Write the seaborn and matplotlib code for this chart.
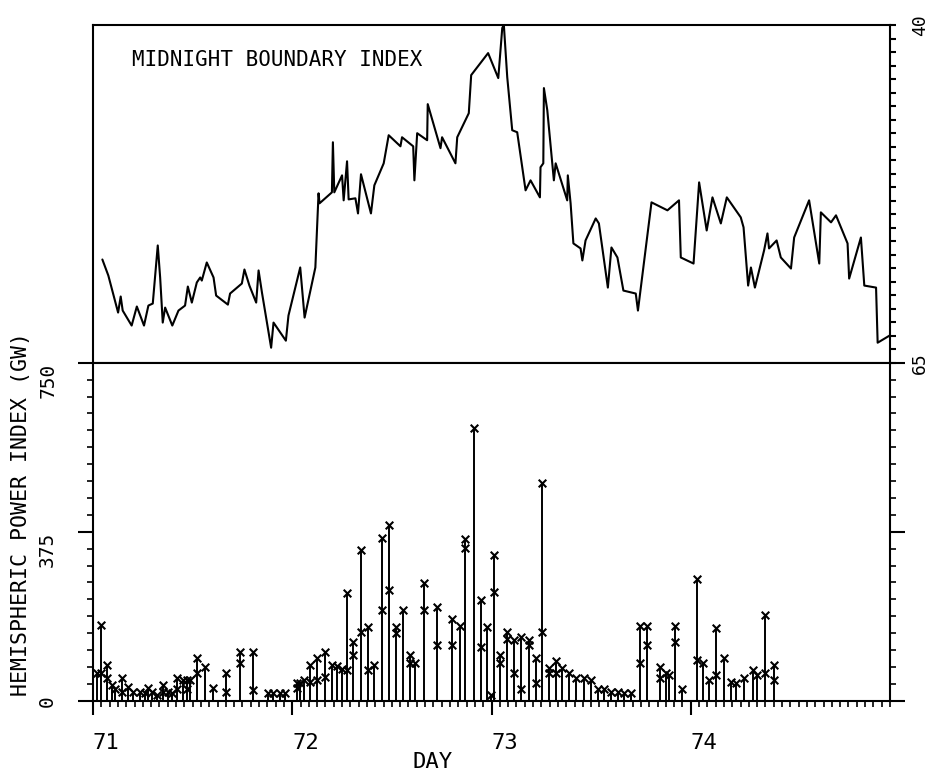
import numpy as np
import matplotlib
matplotlib.use("Agg")
import matplotlib.pyplot as plt
import seaborn as sns
import pandas as pd
from matplotlib.ticker import MultipleLocator

sns.set_style("ticks")
plt.rcParams['font.family'] = ['DejaVu Sans Mono', 'DejaVu Sans']
plt.rcParams['text.color'] = 'black'
plt.rcParams['axes.labelcolor'] = 'black'
plt.rcParams['xtick.color'] = 'black'
plt.rcParams['ytick.color'] = 'black'

# ---- Midnight boundary index (top panel) ----
mbi_day = [71.047, 71.077, 71.126, 71.139, 71.149, 71.194, 71.220, 71.256, 71.278, 71.300,
           71.325, 71.337, 71.350, 71.362, 71.398, 71.429, 71.462, 71.476, 71.496, 71.521,
           71.538, 71.546, 71.571, 71.605, 71.618, 71.677, 71.688, 71.747, 71.760, 71.785,
           71.819, 71.831, 71.848, 71.894, 71.906, 71.968, 71.981, 72.040, 72.062, 72.116,
           72.132, 72.137, 72.199, 72.204, 72.211, 72.250, 72.258, 72.275, 72.283, 72.317,
           72.330, 72.345, 72.395, 72.412, 72.459, 72.484, 72.543, 72.551, 72.607, 72.613,
           72.627, 72.677, 72.680, 72.744, 72.752, 72.819, 72.828, 72.886, 72.898, 72.983,
           73.034, 73.054, 73.062, 73.079, 73.104, 73.129, 73.171, 73.196, 73.243, 73.246,
           73.260, 73.263, 73.280, 73.313, 73.322, 73.380, 73.383, 73.397, 73.411, 73.447,
           73.456, 73.472, 73.523, 73.539, 73.584, 73.602, 73.632, 73.662, 73.724, 73.735,
           73.803, 73.883, 73.941, 73.950, 74.014, 74.042, 74.080, 74.109, 74.151, 74.181,
           74.251, 74.265, 74.288, 74.302, 74.322, 74.368, 74.385, 74.393, 74.431, 74.452,
           74.503, 74.519, 74.594, 74.645, 74.653, 74.704, 74.729, 74.787, 74.795, 74.854,
           74.871, 74.930, 74.938, 74.997]
mbi_val = [57.36, 58.55, 61.29, 60.10, 61.14, 62.25, 60.84, 62.25, 60.77, 60.62,
           56.32, 58.69, 62.03, 60.92, 62.25, 61.14, 60.77, 59.36, 60.55, 59.06,
           58.69, 58.92, 57.58, 58.69, 60.03, 60.70, 59.88, 59.14, 58.10, 59.29,
           60.55, 58.17, 59.81, 63.89, 62.03, 63.37, 61.51, 57.95, 61.66, 57.95,
           52.46, 53.20, 52.39, 48.68, 52.39, 51.13, 52.98, 50.09, 52.91, 52.83,
           53.95, 51.05, 53.95, 51.87, 50.24, 48.16, 48.98, 48.31, 48.98, 51.50,
           48.01, 48.53, 45.86, 49.12, 48.31, 50.24, 48.31, 46.53, 43.71, 42.08,
           43.93, 40.22, 40.00, 43.86, 47.79, 47.94, 52.24, 51.50, 52.76, 50.53,
           50.24, 44.67, 46.31, 51.50, 50.24, 52.98, 51.13, 53.20, 56.17, 56.54,
           57.43, 55.95, 54.32, 54.69, 59.44, 56.47, 57.21, 59.66, 59.88, 61.14,
           53.13, 53.72, 52.98, 57.21, 57.66, 51.65, 55.21, 52.76, 54.69, 52.76,
           54.24, 54.98, 59.29, 57.95, 59.44, 56.69, 55.43, 56.54, 55.95, 57.21,
           58.03, 55.73, 52.98, 57.66, 53.87, 54.61, 54.09, 56.17, 58.77, 55.73,
           59.29, 59.44, 63.52, 63.00]

# ---- Hemispheric power index (bottom panel) ----
nan = np.nan
hpi_day = [71.020, 71.039, 71.069, 71.095, 71.111, 71.144, 71.176, 71.201, 71.236, 71.261,
           71.276, 71.296, 71.322, 71.352, 71.377, 71.397, 71.422, 71.452, 71.472, 71.487,
           71.523, 71.563, 71.603, 71.668, 71.739, 71.804, 71.879, 71.905, 71.940, 71.965,
           72.025, 72.040, 72.060, 72.090, 72.126, 72.166, 72.201, 72.226, 72.251, 72.275,
           72.307, 72.345, 72.382, 72.412, 72.451, 72.484, 72.523, 72.556, 72.589, 72.618,
           72.660, 72.727, 72.803, 72.841, 72.869, 72.911, 72.945, 72.978, 72.995, 73.012,
           73.045, 73.079, 73.112, 73.146, 73.187, 73.221, 73.255, 73.288, 73.322, 73.355,
           73.387, 73.422, 73.462, 73.497, 73.533, 73.563, 73.598, 73.633, 73.663, 73.698,
           73.745, 73.779, 73.846, 73.874, 73.891, 73.920, 73.958, 74.029, 74.059, 74.092,
           74.129, 74.167, 74.201, 74.226, 74.268, 74.310, 74.334, 74.372, 74.416]
hpi_peak = [61, 168, 79, 35, 27, 50, 31, 20, 20, 16,
            28, 20, 12, 35, 20, 16, 50, 46, 46, 46,
            94, 75, 28, 61, 109, 109, 16, 16, 16, 16,
            39, 39, 46, 79, 94, 107, 79, 76, 70, 238,
            131, 334, 164, 79, 360, 390, 164, 201, 101, 83,
            262, 207, 181, 166, 358, 604, 223, 164, 13, 323,
            101, 153, 135, 142, 135, 94, 482, 72, 87, 72,
            61, 50, 50, 46, 27, 27, 20, 20, 16, 16,
            166, 166, 75, 61, 57, 166, 27, 269, 83, 46,
            161, 94, 42, 39, 50, 68, 57, 190, 79]
hpi_second = [nan, 61, 50, nan, nan, 20, nan, nan, nan, nan,
              nan, nan, nan, 20, nan, nan, 27, nan, 27, nan,
              61, nan, nan, 20, 83, 23, nan, nan, nan, nan,
              28, nan, nan, 42, 46, 53, nan, nan, nan, 68,
              101, 153, 68, nan, 201, 246, 150, nan, 83, nan,
              201, 124, 124, nan, 338, nan, 120, nan, nan, 242,
              83, 138, 61, 27, 124, 39, 153, 61, 61, nan,
              nan, nan, nan, nan, nan, nan, nan, nan, nan, nan,
              83, 124, 50, nan, nan, 131, nan, 90, nan, nan,
              57, nan, nan, nan, nan, nan, nan, 61, 46]

W, H = 928, 771
fig = plt.figure(figsize=(W / 100, H / 100), dpi=100)
left = 93 / W
width = 797 / W
ax_top = fig.add_axes([left, 1 - 362.7 / H, width, 337.7 / H])
ax_bot = fig.add_axes([left, 1 - 700.7 / H, width, 338 / H])

lw_sp = 1.5
for ax in (ax_top, ax_bot):
    for s in ax.spines.values():
        s.set_linewidth(lw_sp)
        s.set_color('black')
    ax.set_xlim(71, 75)

# ---- top panel ----
mbi = pd.DataFrame({'day': mbi_day, 'mbi': mbi_val})
sns.lineplot(data=mbi, x='day', y='mbi', ax=ax_top, color='black', linewidth=1.5,
             estimator=None, sort=False)
ax_top.set_ylim(65, 40)
ax_top.set_xlabel('')
ax_top.set_ylabel('')
ax_top.tick_params(axis='x', which='both', bottom=False, top=False,
                   labelbottom=False, labeltop=False)
ax_top.yaxis.tick_right()
ax_top.set_yticks([40, 65])
ax_top.set_yticklabels(['40', '65'])
ax_top.yaxis.set_minor_locator(MultipleLocator(1))
ax_top.tick_params(axis='y', which='both', direction='out', left=False, right=True,
                   labelleft=False, labelright=True, length=4.3, width=1.5,
                   labelsize=13, pad=11, labelrotation=90)
plt.setp(ax_top.get_yticklabels(), va='center')
ax_top.text(39 / 797, (362.7 - 60) / 337.7, 'MIDNIGHT BOUNDARY INDEX',
            transform=ax_top.transAxes, ha='left', va='center', fontsize=15)

# ---- bottom panel ----
ax_bot.vlines(hpi_day, 0, hpi_peak, color='black', linewidth=1.4)
hpi = pd.DataFrame({'day': hpi_day * 2,
                    'gw': list(hpi_peak) + list(hpi_second)}).dropna()
sns.scatterplot(data=hpi, x='day', y='gw', ax=ax_bot, marker='x', color='black',
                s=30, linewidth=1.5, zorder=3)
ax_bot.set_ylim(0, 750)
ax_bot.set_yticks([0, 375, 750])
ax_bot.set_yticklabels(['0', '375', '750'])
ax_bot.yaxis.set_minor_locator(MultipleLocator(37.5))
ax_bot.tick_params(axis='y', which='major', direction='out', left=True, right=True,
                   length=10.8, width=1.5, labelsize=14, pad=15, labelrotation=90)
ax_bot.tick_params(axis='y', which='minor', direction='out', left=True, right=True,
                   length=4.3, width=1.2)
ylabs = ax_bot.get_yticklabels()
ylabs[0].set_va('center')
ylabs[1].set_va('top')
ylabs[2].set_va('top')

ax_bot.xaxis.set_major_locator(MultipleLocator(1))
ax_bot.xaxis.set_minor_locator(MultipleLocator(1 / 24))
ax_bot.set_xticks([71, 72, 73, 74])
ax_bot.set_xticklabels(['71', '72', '73', '74'])
ax_bot.tick_params(axis='x', which='major', direction='out', bottom=True, top=False,
                   length=10, width=1.5, labelsize=16, pad=13)
ax_bot.tick_params(axis='x', which='minor', direction='out', bottom=True, top=False,
                   length=4.3, width=1.2)
plt.setp(ax_bot.get_xticklabels(), ha='left')

ax_bot.set_xlabel('DAY', fontsize=16)
ax_bot.xaxis.set_label_coords((433 - 93) / 797, (700.7 - 752) / 338)
ax_bot.set_ylabel('HEMISPHERIC POWER INDEX (GW)', fontsize=15.5)
ax_bot.yaxis.set_label_coords((31 - 93) / 797, (700.7 - 514) / 338)

fig.savefig('out.png', dpi=100)
